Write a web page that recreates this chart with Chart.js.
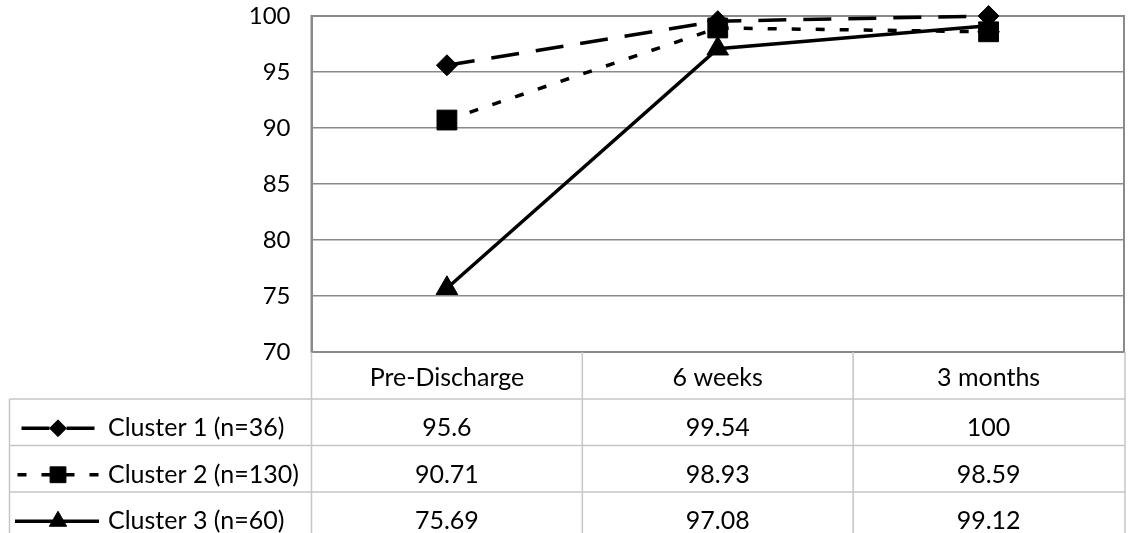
<!DOCTYPE html>
<html>
<head>
<meta charset="utf-8">
<title>Cluster scores over time</title>
<style>
  html, body { margin: 0; padding: 0; background: #ffffff; }
  canvas { display: block; }
</style>
<script src="https://cdn.jsdelivr.net/npm/chart.js@4.4.1/dist/chart.umd.min.js"></script>
</head>
<body>
<canvas id="chart" width="1139" height="533"></canvas>
<script>
// Time points and the three cluster series
const categories = ['Pre-Discharge', '6 weeks', '3 months'];
const seriesNames = ['Cluster 1 (n=36)', 'Cluster 2 (n=130)', 'Cluster 3 (n=60)'];
const cluster1 = [95.6, 99.54, 100];
const cluster2 = [90.71, 98.93, 98.59];
const cluster3 = [75.69, 97.08, 99.12];
const yTicks = [70, 75, 80, 85, 90, 95, 100];

const FONT = 'Lato, "Open Sans", sans-serif';
const TEXT_SIZE = 25;
const FRAME_COLOR = '#8a8a8a';
const TABLE_COLOR = '#c6c6c6';

const seriesValues = [cluster1, cluster2, cluster3];
const seriesStyles = [
  { dash: [28, 17], pointStyle: 'rectRot', radius: 10.5 },
  { dash: [9, 15], pointStyle: 'rect', radius: 14 },
  { dash: [], pointStyle: 'triangle', radius: 12.5 }
];

const datasets = seriesValues.map((vals, i) => ({
  label: seriesNames[i],
  data: vals,
  borderColor: '#000000',
  backgroundColor: '#000000',
  borderWidth: 3.5,
  borderDash: seriesStyles[i].dash,
  pointStyle: seriesStyles[i].pointStyle,
  pointRadius: seriesStyles[i].radius,
  pointHoverRadius: seriesStyles[i].radius,
  pointBorderWidth: 1,
  pointBorderColor: '#000000',
  pointBackgroundColor: '#000000',
  tension: 0,
  clip: false
}));

// Plot frame plus the data table (category header, legend keys, values) under the plot
const dataTablePlugin = {
  id: 'dataTable',
  beforeDatasetsDraw(chart) {
    const { ctx, chartArea: a } = chart;
    ctx.save();
    ctx.strokeStyle = FRAME_COLOR;
    ctx.lineWidth = 2;
    ctx.strokeRect(a.left, a.top, a.right - a.left, a.bottom - a.top);
    ctx.restore();
  },
  afterDraw(chart) {
    const { ctx, chartArea: a } = chart;
    const x = chart.scales.x;
    const band = x.getPixelForValue(1) - x.getPixelForValue(0);
    const bounds = categories.map((_, i) => x.getPixelForValue(i) - band / 2);
    bounds.push(x.getPixelForValue(categories.length - 1) + band / 2 + 1);

    const tableLeft = 9.5;
    const headTop = a.bottom;
    const headH = 47;
    const rowH = 46.5;
    const headBottom = headTop + headH;
    const bottom = chart.height + 10;
    const right = bounds[bounds.length - 1];

    ctx.save();
    ctx.strokeStyle = TABLE_COLOR;
    ctx.lineWidth = 1.5;
    ctx.beginPath();
    bounds.forEach(b => { ctx.moveTo(b, headTop); ctx.lineTo(b, bottom); });
    ctx.moveTo(tableLeft, headBottom); ctx.lineTo(tableLeft, bottom);
    for (let k = 0; k <= seriesNames.length; k++) {
      const y = headBottom + k * rowH;
      ctx.moveTo(tableLeft, y); ctx.lineTo(right, y);
    }
    ctx.stroke();

    ctx.fillStyle = '#000000';
    ctx.font = TEXT_SIZE + 'px ' + FONT;
    ctx.textBaseline = 'middle';
    ctx.textAlign = 'center';
    categories.forEach((c, i) => {
      ctx.fillText(c, x.getPixelForValue(i), headTop + headH / 2 + 2);
    });

    seriesValues.forEach((vals, s) => {
      const yc = headBottom + (s + 0.5) * rowH + 6;
      ctx.textAlign = 'center';
      vals.forEach((v, i) => ctx.fillText(String(v), x.getPixelForValue(i), yc));

      // legend key: line segment with the series dash and marker
      const style = seriesStyles[s];
      const k0 = 15, k1 = 99, km = 58;
      ctx.save();
      ctx.strokeStyle = '#000000';
      ctx.lineWidth = 3.5;
      if (style.dash.length) {
        const d = style.dash[0], g = style.dash[1], p = d + g;
        ctx.setLineDash(style.dash);
        ctx.lineDashOffset = (((d + g / 2) - (km - k0)) % p + p) % p;
      }
      ctx.beginPath();
      ctx.moveTo(k0, yc); ctx.lineTo(k1, yc);
      ctx.stroke();
      ctx.restore();
      ctx.save();
      ctx.fillStyle = '#000000';
      ctx.strokeStyle = '#000000';
      ctx.lineWidth = 1;
      Chart.helpers.drawPoint(ctx, {
        pointStyle: style.pointStyle,
        radius: style.radius * 0.8,
        borderWidth: 1,
        rotation: 0
      }, km, yc);
      ctx.restore();

      ctx.textAlign = 'left';
      ctx.fillText(seriesNames[s], 108, yc);
    });
    ctx.restore();
  }
};

new Chart(document.getElementById('chart'), {
  type: 'line',
  data: { labels: categories, datasets },
  options: {
    responsive: false,
    animation: false,
    events: [],
    layout: { padding: { left: 0, top: 16, right: 2.5, bottom: 181 } },
    plugins: { legend: { display: false }, tooltip: { enabled: false } },
    scales: {
      x: {
        type: 'category',
        display: false,
        offset: true
      },
      y: {
        min: yTicks[0],
        max: yTicks[yTicks.length - 1],
        afterBuildTicks: (scale) => { scale.ticks = yTicks.map(v => ({ value: v })); },
        afterFit: (scale) => {
          scale.width = 311.5;
          scale.paddingTop = 0;
          scale.paddingBottom = 0;
        },
        grid: { color: FRAME_COLOR, lineWidth: 1.5, drawTicks: false },
        border: { display: true, color: FRAME_COLOR, width: 2 },
        ticks: {
          padding: 21,
          color: '#000000',
          font: { family: FONT, size: 24 }
        }
      }
    }
  },
  plugins: [dataTablePlugin]
});
</script>
</body>
</html>
